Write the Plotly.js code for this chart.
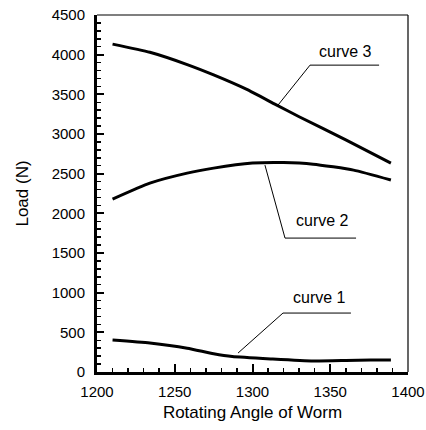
<!DOCTYPE html>
<html>
<head>
<meta charset="utf-8">
<script src="https://cdn.plot.ly/plotly-3.0.1.min.js"></script>
<style>html,body{margin:0;padding:0;background:#fff;}#chart{width:426px;height:430px;}</style>
</head>
<body>
<div id="chart"></div>
<script>
var curve1X = [1210, 1234, 1258, 1275, 1287, 1313, 1339, 1360, 1376, 1389];
var curve1Y = [403, 365, 300, 230, 195, 164, 139, 145, 151, 151];
var curve2X = [1210, 1234, 1258, 1275, 1300, 1320, 1339, 1365, 1389];
var curve2Y = [2180, 2381, 2507, 2570, 2633, 2640, 2620, 2545, 2420];
var curve3X = [1210, 1234, 1258, 1275, 1296, 1315, 1330, 1360, 1389];
var curve3Y = [4133, 4030, 3875, 3745, 3565, 3370, 3218, 2925, 2633];
var curveNames = ["curve 1", "curve 2", "curve 3"];
var xTitle = "Rotating Angle of Worm";
var yTitle = "Load (N)";

var FONT = "Liberation Sans, Arial, sans-serif";
function tr(x, y, n) {
  return {x: x, y: y, name: n, type: "scatter", mode: "lines",
    line: {color: "#000", width: 3, shape: "spline", smoothing: 0.5},
    hoverinfo: "skip"};
}
var data = [tr(curve1X, curve1Y, curveNames[0]), tr(curve2X, curve2Y, curveNames[1]), tr(curve3X, curve3Y, curveNames[2])];

function seg(x0, y0, x1, y1) {
  return {type: "line", xref: "x", yref: "y", x0: x0, y0: y0, x1: x1, y1: y1,
    line: {color: "#000", width: 1}};
}
var shapes = [
  seg(1316.4, 3364, 1337, 3868), seg(1337, 3868, 1381.4, 3868),
  seg(1308, 2608, 1320.9, 1688), seg(1320.9, 1688, 1366.6, 1688),
  seg(1290.7, 239, 1319.6, 743), seg(1319.6, 743, 1363.3, 743),
  {type: "line", xref: "paper", yref: "paper", x0: 0, y0: 1, x1: 1, y1: 1, line: {color: "#000", width: 1.2}},
  {type: "line", xref: "paper", yref: "paper", x0: 1, y0: 0, x1: 1, y1: 1, line: {color: "#000", width: 1.2}}
];
function lab(x, y, t) {
  return {x: x, y: y, xref: "x", yref: "y", text: t, showarrow: false,
    font: {family: FONT, size: 16, color: "#000"}};
}
var annotations = [
  lab(1360, 4040, curveNames[2]),
  lab(1345.3, 1915, curveNames[1]),
  lab(1343.4, 940, curveNames[0])
];

var layout = {
  width: 426, height: 430,
  margin: {l: 97, r: 18, t: 15, b: 58},
  paper_bgcolor: "#fff", plot_bgcolor: "#fff",
  showlegend: false,
  font: {family: FONT, color: "#000", size: 15},
  xaxis: {
    range: [1200, 1400], dtick: 50, tick0: 1200,
    showgrid: false, zeroline: false,
    showline: true, linecolor: "#000", linewidth: 3,
    ticks: "inside", ticklen: 8, tickwidth: 2, tickcolor: "#000",
    minor: {dtick: 10, ticks: "inside", ticklen: 4, tickwidth: 1.5, tickcolor: "#000"},
    tickfont: {family: FONT, size: 15, color: "#000"},
    ticklabelstandoff: 4,
    title: {text: xTitle, font: {family: FONT, size: 17, color: "#000"}, standoff: 8}
  },
  yaxis: {
    range: [0, 4500], dtick: 500, tick0: 0,
    showgrid: false, zeroline: false,
    showline: true, linecolor: "#000", linewidth: 3,
    ticks: "inside", ticklen: 7, tickwidth: 2, tickcolor: "#000",
    minor: {dtick: 100, ticks: "inside", ticklen: 4, tickwidth: 1.5, tickcolor: "#000"},
    tickfont: {family: FONT, size: 15, color: "#000"},
    ticklabelstandoff: 6,
    title: {text: yTitle, font: {family: FONT, size: 17, color: "#000"}, standoff: 19}
  },
  shapes: shapes,
  annotations: annotations
};
Plotly.newPlot("chart", data, layout, {staticPlot: true, displayModeBar: false});
</script>
</body>
</html>
